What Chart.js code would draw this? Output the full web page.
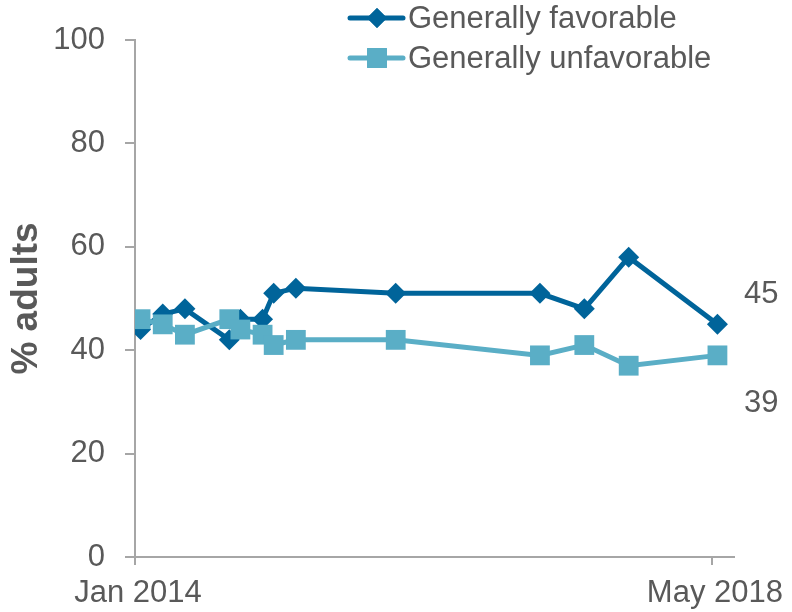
<!DOCTYPE html>
<html>
<head>
<meta charset="utf-8">
<script src="https://cdn.jsdelivr.net/npm/chart.js@4"></script>
<style>
  html, body { margin: 0; padding: 0; background: #fff; }
  #wrap { width: 792px; height: 612px; }
</style>
</head>
<body>
<div id="wrap"><canvas id="chart"></canvas></div>
<script>
// survey dates as months since Jan 2014 (mid-month)
const surveyMonths = [0.5, 2.5, 4.5, 8.5, 9.5, 11.5, 12.5, 14.5, 23.5, 36.5, 40.5, 44.5, 52.5];
const favorable = [44, 47, 48, 42, 46, 46, 51, 52, 51, 51, 48, 58, 45];
const unfavorable = [46, 45, 43, 46, 44, 43, 41, 42, 42, 39, 41, 37, 39];
const xTickValues = [0, 52];
const xTickLabels = ['Jan 2014', 'May 2018'];
const seriesNames = ['Generally favorable', 'Generally unfavorable'];

const darkBlue = '#00649a';
const lightBlue = '#5aaec6';
const textGray = '#595959';
const axisGray = '#a6a6a6';
const font = 'Liberation Sans, Arial, sans-serif';

function toPoints(values) {
    return surveyMonths.map((m, i) => ({ x: m, y: values[i] }));
}

// legend at the top and the end labels on the right
const extras = {
    id: 'extras',
    afterDraw(chart) {
        const ctx = chart.ctx;
        const y = chart.scales.y;
        ctx.save();
        ctx.font = '31px ' + font;
        ctx.fillStyle = textGray;
        ctx.textBaseline = 'middle';

        // end labels
        ctx.textAlign = 'left';
        ctx.fillText(String(favorable[favorable.length - 1]), 744, y.getPixelForValue(favorable[favorable.length - 1]) - 30);
        ctx.fillText(String(unfavorable[unfavorable.length - 1]), 744, y.getPixelForValue(unfavorable[unfavorable.length - 1]) + 48);

        // legend
        const rows = [
            { y: 18, color: darkBlue, style: 'rectRot', r: 10 },
            { y: 58, color: lightBlue, style: 'rect', r: 14 }
        ];
        rows.forEach((row, i) => {
            ctx.strokeStyle = row.color;
            ctx.lineWidth = 5;
            ctx.lineCap = 'round';
            ctx.beginPath();
            ctx.moveTo(350, row.y);
            ctx.lineTo(403, row.y);
            ctx.stroke();
            ctx.fillStyle = row.color;
            Chart.helpers.drawPoint(ctx, { pointStyle: row.style, radius: row.r, borderWidth: 0 }, 377, row.y);
            ctx.fill();
            ctx.fillStyle = textGray;
            ctx.fillText(seriesNames[i], 408, row.y + 1);
        });
        ctx.restore();
    }
};

new Chart(document.getElementById('chart').getContext('2d'), {
    type: 'line',
    data: {
        datasets: [{
            label: seriesNames[0],
            data: toPoints(favorable),
            borderColor: darkBlue,
            backgroundColor: darkBlue,
            borderWidth: 5,
            pointStyle: 'rectRot',
            pointRadius: 10.5,
            pointBorderWidth: 0,
            order: 2
        }, {
            label: seriesNames[1],
            data: toPoints(unfavorable),
            borderColor: lightBlue,
            backgroundColor: lightBlue,
            borderWidth: 5,
            pointStyle: 'rect',
            pointRadius: 14,
            pointBorderWidth: 0,
            order: 1
        }]
    },
    options: {
        responsive: true,
        maintainAspectRatio: false,
        animation: false,
        layout: { padding: { top: 40, right: 55, left: 0, bottom: 0 } },
        scales: {
            x: {
                type: 'linear',
                min: 0,
                max: 54,
                afterBuildTicks: (scale) => {
                    scale.ticks = xTickValues.map(v => ({ value: v }));
                },
                afterFit: (scale) => { scale.height = 55; },
                ticks: {
                    autoSkip: false,
                    maxRotation: 0,
                    padding: 10,
                    labelOffset: 3,
                    color: textGray,
                    font: { family: font, size: 31 },
                    callback: (value) => xTickLabels[xTickValues.indexOf(value)]
                },
                grid: { drawOnChartArea: false, tickLength: 8, color: axisGray, lineWidth: 2 },
                border: { color: axisGray, width: 2 }
            },
            y: {
                min: 0,
                max: 100,
                afterFit: (scale) => { scale.width = 135; },
                ticks: {
                    stepSize: 20,
                    padding: 20,
                    color: textGray,
                    font: { family: font, size: 31 }
                },
                grid: { drawOnChartArea: false, tickLength: 10, color: axisGray, lineWidth: 2 },
                border: { color: axisGray, width: 2 },
                title: {
                    display: true,
                    text: '% adults',
                    color: textGray,
                    padding: { top: 5, bottom: 0 },
                    font: { family: font, size: 37, weight: 'bold' }
                }
            }
        },
        plugins: {
            legend: { display: false },
            tooltip: { enabled: false }
        }
    },
    plugins: [extras]
});
</script>
</body>
</html>
